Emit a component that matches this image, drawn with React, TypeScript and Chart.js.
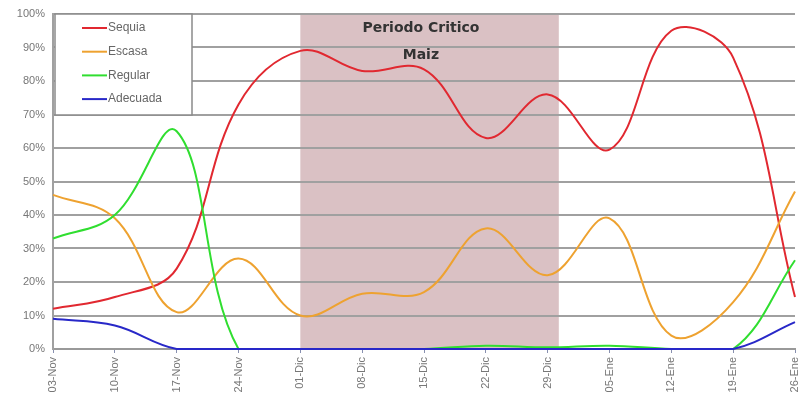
import React, { useEffect, useRef } from "react";
import { Chart, registerables } from "chart.js";

Chart.register(...registerables);

const categories = ["03-Nov", "10-Nov", "17-Nov", "24-Nov", "01-Dic", "08-Dic", "15-Dic", "22-Dic", "29-Dic", "05-Ene", "12-Ene", "19-Ene", "26-Ene"];
const sequia = [12, 15.5, 24, 73, 89, 83, 83.5, 63, 76, 59.5, 95, 87, 15.5];
const escasa = [46, 39, 11, 27, 10, 16.5, 17, 36, 22, 39, 4, 14, 47];
const regular = [33, 40, 65, 0, 0, 0, 0, 1, 0.5, 1, 0, 0, 26.5];
const adecuada = [9, 7, 0, 0, 0, 0, 0, 0, 0, 0, 0, 0, 8];
const seriesNames = ["Sequia", "Escasa", "Regular", "Adecuada"];
const seriesColors = ["rgb(225,40,48)", "rgb(238,162,48)", "rgb(48,222,48)", "rgb(40,40,200)"];
const bandStart = 4;
const bandEnd = 8.18;
const bandTitle = ["Periodo Critico", "Maiz"];

const bandPlugin = {
  id: "band",
  beforeDraw(chart: any) {
    const { ctx, chartArea } = chart;
    const xs = chart.scales.x;
    const x0 = xs.getPixelForValue(bandStart);
    const x1 = xs.getPixelForValue(bandEnd);
    ctx.save();
    ctx.fillStyle = "rgb(218,193,196)";
    ctx.fillRect(x0, chartArea.top, x1 - x0, chartArea.bottom - chartArea.top);
    ctx.restore();
  },
  beforeDatasetsDraw(chart: any) {
    const { ctx } = chart;
    const xs = chart.scales.x;
    const ys = chart.scales.y;
    const cx = xs.getPixelForValue(5.95);
    ctx.save();
    ctx.fillStyle = "#333";
    ctx.font = "bold 14px 'DejaVu Sans'";
    ctx.textAlign = "center";
    ctx.textBaseline = "middle";
    ctx.fillText(bandTitle[0], cx, ys.getPixelForValue(95.8));
    ctx.fillText(bandTitle[1], cx, ys.getPixelForValue(87.6));
    ctx.restore();
  },
};

const legendPlugin = {
  id: "boxLegend",
  afterDatasetsDraw(chart: any) {
    const { ctx, chartArea } = chart;
    const left = chartArea.left + 2;
    const top = chartArea.top;
    const w = 137;
    const h = 101;
    ctx.save();
    ctx.fillStyle = "#fff";
    ctx.fillRect(left, top, w, h);
    ctx.strokeStyle = "#8a8a8a";
    ctx.lineWidth = 1.5;
    ctx.strokeRect(left, top, w, h);
    ctx.font = "12px 'Liberation Sans'";
    ctx.textBaseline = "middle";
    ctx.textAlign = "left";
    seriesNames.forEach((name, i) => {
      const y = top + 14 + i * 23.7;
      ctx.strokeStyle = seriesColors[i];
      ctx.lineWidth = 2;
      ctx.beginPath();
      ctx.moveTo(left + 27, y);
      ctx.lineTo(left + 52, y);
      ctx.stroke();
      ctx.fillStyle = "#666";
      ctx.fillText(name, left + 53, y);
    });
    ctx.restore();
  },
};

export default function App() {
  const ref = useRef<HTMLCanvasElement>(null);
  useEffect(() => {
    document.body.style.margin = "0";
    const mk = (label: string, data: number[], i: number) => ({
      label,
      data,
      borderColor: seriesColors[i],
      backgroundColor: seriesColors[i],
      borderWidth: 2,
      pointRadius: 0,
      tension: 0.38,
      fill: false,
      clip: 4,
      order: 4 - i,
    });
    const chart = new Chart(ref.current!, {
      type: "line",
      data: {
        labels: categories,
        datasets: [
          mk(seriesNames[0], sequia, 0),
          mk(seriesNames[1], escasa, 1),
          mk(seriesNames[2], regular, 2),
          mk(seriesNames[3], adecuada, 3),
        ],
      },
      options: {
        responsive: false,
        animation: false,
        layout: { padding: { top: 14, right: 4, left: 0, bottom: 0 } },
        plugins: { legend: { display: false }, tooltip: { enabled: false } },
        scales: {
          x: {
            offset: false,
            grid: { drawOnChartArea: false, drawTicks: true, tickLength: 4, color: "#8890b0", lineWidth: 1 },
            border: { color: "#999", width: 2 },
            ticks: {
              minRotation: 90,
              maxRotation: 90,
              autoSkip: false,
              padding: 4,
              color: "#777",
              font: { family: "'Liberation Sans'", size: 11 },
            },
            afterFit(scale: any) {
              scale.height = 52;
              scale.paddingLeft = 0;
              scale.paddingRight = 0;
            },
          },
          y: {
            min: 0,
            max: 100,
            grid: { color: "#a0a0a0", lineWidth: 2, drawTicks: false },
            border: { color: "#a0a0a0", width: 2 },
            ticks: {
              stepSize: 10,
              padding: 8,
              color: "#777",
              font: { family: "'Liberation Sans'", size: 11 },
              callback: (v: any) => v + "%",
            },
            afterFit(scale: any) {
              scale.width = 53;
              scale.paddingTop = 0;
              scale.paddingBottom = 0;
            },
          },
        },
      },
      plugins: [bandPlugin, legendPlugin],
    });
    return () => chart.destroy();
  }, []);
  return (
    <div style={{ width: 799, height: 401, overflow: "hidden", background: "#fff" }}>
      <canvas ref={ref} width={799} height={401} />
    </div>
  );
}
